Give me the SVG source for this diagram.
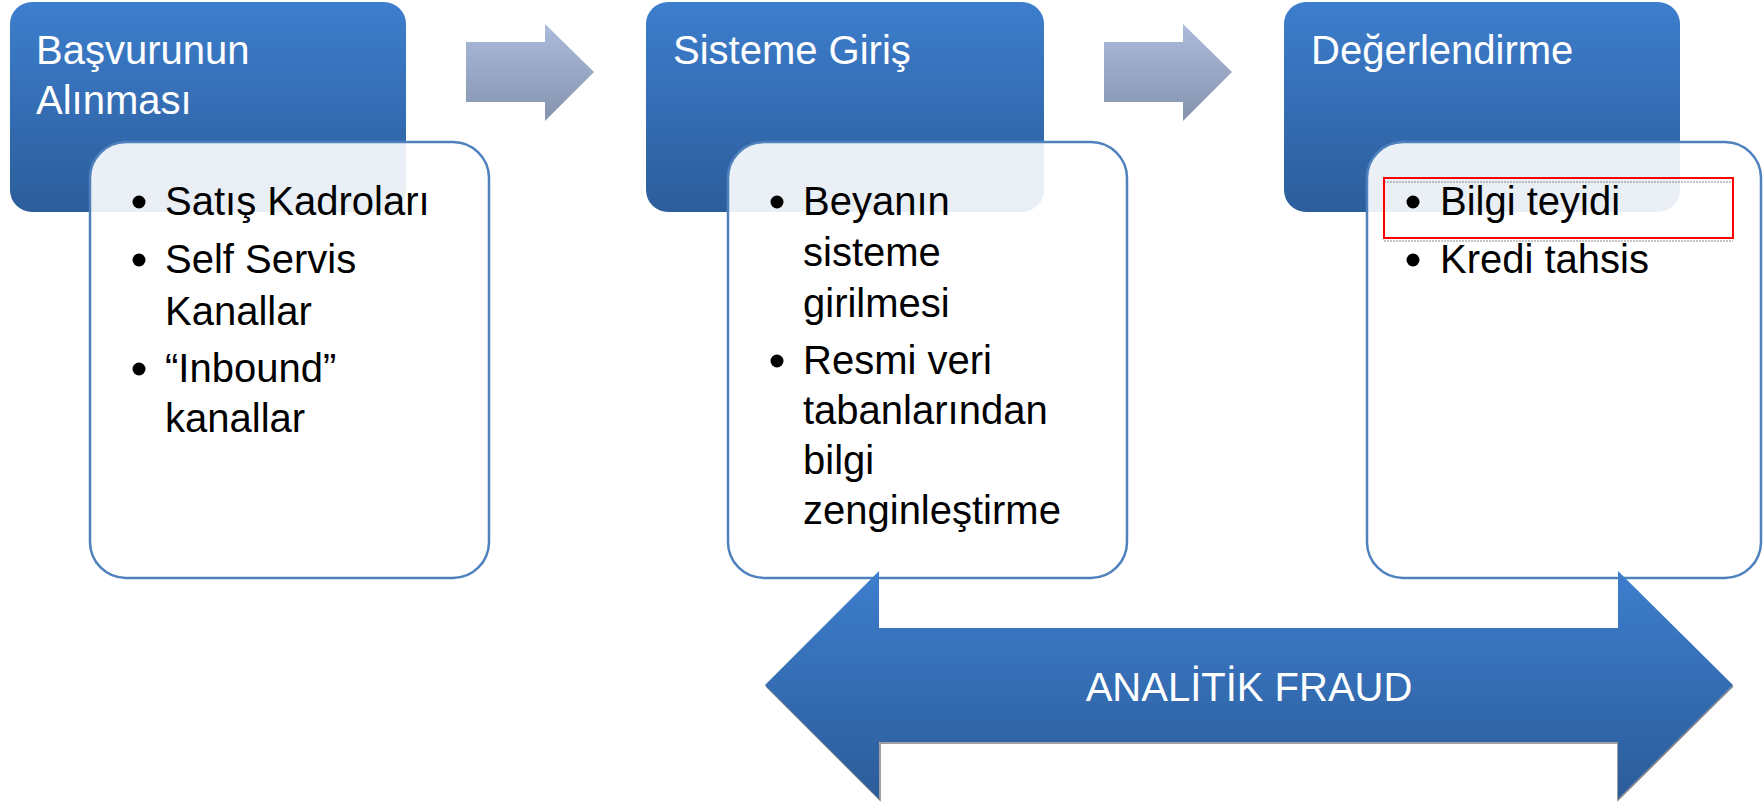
<svg xmlns="http://www.w3.org/2000/svg" width="1764" height="806" viewBox="0 0 1764 806">
  <defs>
    <linearGradient id="gBlue" x1="0" y1="0" x2="0" y2="1">
      <stop offset="0" stop-color="#3d7ecd"/>
      <stop offset="1" stop-color="#2c5d9b"/>
    </linearGradient>
    <linearGradient id="gGrey" x1="0" y1="0" x2="0" y2="1">
      <stop offset="0" stop-color="#abbbdc"/>
      <stop offset="1" stop-color="#8593ae"/>
    </linearGradient>
    <linearGradient id="gBig" x1="0" y1="0" x2="0" y2="1">
      <stop offset="0" stop-color="#3d7ecd"/>
      <stop offset="1" stop-color="#2c5c9a"/>
    </linearGradient>
    <style>
      .hdr { fill: url(#gBlue); }
      .body { fill: #ffffff; fill-opacity: 0.9; stroke: #4f81bd; stroke-width: 2.5; }
      .htxt { font-family: "Liberation Sans", Arial, sans-serif; font-size: 40px; fill: #ffffff; }
      .btxt { font-family: "Liberation Sans", Arial, sans-serif; font-size: 40px; fill: #000000; }
      .dot { fill: #000000; }
      .flow { fill: url(#gGrey); }
    </style>
  </defs>

  <g id="connectors">
    <polygon class="flow" points="466,42 545,42 545,24 594,72 545,121 545,102 466,102"/>
    <polygon class="flow" points="1104,42 1183,42 1183,24 1232,72 1183,121 1183,102 1104,102"/>
  </g>

  <g id="stage1">
    <rect class="hdr" x="10" y="2" width="396" height="210" rx="22"/>
    <text class="htxt" x="36" y="64">Başvurunun</text>
    <text class="htxt" x="36" y="114">Alınması</text>
    <rect class="body" x="90" y="142" width="399" height="436" rx="36"/>
    <circle class="dot" cx="139" cy="202" r="6.5"/>
    <text class="btxt" x="165" y="215">Satış Kadroları</text>
    <circle class="dot" cx="139" cy="260" r="6.5"/>
    <text class="btxt" x="165" y="273">Self Servis</text>
    <text class="btxt" x="165" y="325">Kanallar</text>
    <circle class="dot" cx="139" cy="369" r="6.5"/>
    <text class="btxt" x="165" y="382">“Inbound”</text>
    <text class="btxt" x="165" y="432">kanallar</text>
  </g>

  <g id="stage2">
    <rect class="hdr" x="646" y="2" width="398" height="210" rx="22"/>
    <text class="htxt" x="673" y="64">Sisteme Giriş</text>
    <rect class="body" x="728" y="142" width="399" height="436" rx="36"/>
    <circle class="dot" cx="777" cy="202" r="6.5"/>
    <text class="btxt" x="803" y="215">Beyanın</text>
    <text class="btxt" x="803" y="266">sisteme</text>
    <text class="btxt" x="803" y="317">girilmesi</text>
    <circle class="dot" cx="777" cy="361" r="6.5"/>
    <text class="btxt" x="803" y="374">Resmi veri</text>
    <text class="btxt" x="803" y="424">tabanlarından</text>
    <text class="btxt" x="803" y="474">bilgi</text>
    <text class="btxt" x="803" y="524">zenginleştirme</text>
  </g>

  <g id="stage3">
    <rect class="hdr" x="1284" y="2" width="396" height="210" rx="22"/>
    <text class="htxt" x="1311" y="64">Değerlendirme</text>
    <rect class="body" x="1367" y="142" width="394" height="436" rx="36"/>
    <line x1="1384" y1="182" x2="1733" y2="182" stroke="#888888" stroke-width="1" stroke-dasharray="2 1"/>
    <line x1="1384" y1="241" x2="1733" y2="241" stroke="#888888" stroke-width="1" stroke-dasharray="2 1"/>
    <rect x="1384" y="178" width="349" height="60" fill="none" stroke="#ff0000" stroke-width="2"/>
    <circle class="dot" cx="1413" cy="202" r="6.5"/>
    <text class="btxt" x="1440" y="215">Bilgi teyidi</text>
    <circle class="dot" cx="1413" cy="260" r="6.5"/>
    <text class="btxt" x="1440" y="273">Kredi tahsis</text>
  </g>

  <g id="analitik-fraud">
    <polyline points="766,686 880,800 880,743 1618,743 1618,800 1733,686" fill="none" stroke="#4a4a4a" stroke-width="1.5" stroke-opacity="0.7"/>
    <polygon points="765,685 879,571 879,628 1618,628 1618,571 1733,685 1618,799 1618,742 879,742 879,799" fill="url(#gBig)"/>
    <text x="1249" y="701" text-anchor="middle" font-family="Liberation Sans, Arial, sans-serif" font-size="40" fill="#ffffff">ANALİTİK FRAUD</text>
  </g>
</svg>
